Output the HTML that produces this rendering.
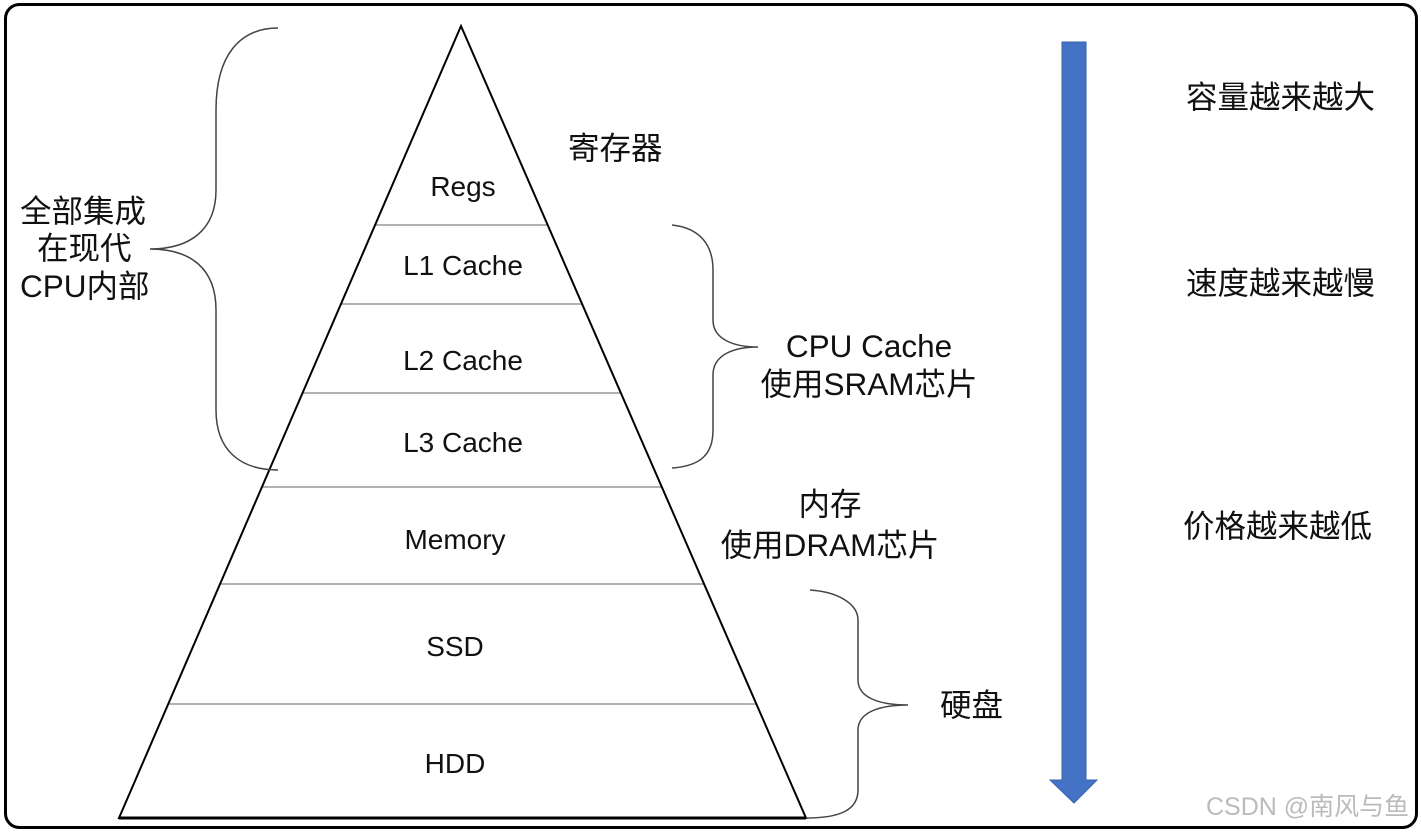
<!DOCTYPE html>
<html><head><meta charset="utf-8"><style>
html,body{margin:0;padding:0;background:#fff;}
svg{display:block;}
text{font-family:"Liberation Sans","Noto Sans CJK SC",sans-serif;fill:#111;}
</style></head><body>
<svg width="1421" height="833" viewBox="0 0 1421 833" xmlns="http://www.w3.org/2000/svg">
<rect x="5.5" y="4.5" width="1411" height="823" rx="14" fill="#fff" stroke="#000" stroke-width="3"/>
<g stroke="#999" stroke-width="1.5">
<line x1="375" y1="225" x2="548" y2="225"/>
<line x1="341" y1="304" x2="582" y2="304"/>
<line x1="302" y1="393" x2="621" y2="393"/>
<line x1="262" y1="487" x2="662" y2="487"/>
<line x1="220" y1="584" x2="705" y2="584"/>
<line x1="168" y1="704" x2="757" y2="704"/>
</g>
<polygon points="461,26 119,818 806,818" fill="none" stroke="#000" stroke-width="2"/>
<line x1="119" y1="818" x2="806" y2="818" stroke="#000" stroke-width="3"/>
<g font-size="28" text-anchor="middle">
<text x="463" y="196">Regs</text>
<text x="463" y="275">L1 Cache</text>
<text x="463" y="370">L2 Cache</text>
<text x="463" y="452">L3 Cache</text>
<text x="455" y="549">Memory</text>
<text x="455" y="656">SSD</text>
<text x="455" y="773">HDD</text>
</g>
<g fill="none" stroke="#444" stroke-width="1.5">
<path d="M278,28 C240,28 216,55 216,110 L216,190 C216,230 190,249 150,249 C190,249 216,268 216,310 L216,410 C216,450 240,470 278,470"/>
<path d="M672,225 C700,228 713,245 713,270 L713,320 C713,340 735,347 758,347 C735,347 713,354 713,375 L713,430 C713,455 700,466 672,468"/>
<path d="M810,590 C840,592 858,605 858,620 L858,680 C858,698 880,705 908,705 C880,705 858,712 858,730 L858,790 C858,810 840,818 806,818"/>
</g>
<g font-size="31.5">
<text x="20" y="222">全部集成</text>
<text x="37" y="259">在现代</text>
<text x="20" y="297">CPU内部</text>
<text x="568" y="159">寄存器</text>
<text x="869" y="357" text-anchor="middle">CPU Cache</text>
<text x="869" y="395" text-anchor="middle">使用SRAM芯片</text>
<text x="830" y="515" text-anchor="middle">内存</text>
<text x="830" y="556" text-anchor="middle">使用DRAM芯片</text>
<text x="940" y="716">硬盘</text>
<text x="1186" y="108">容量越来越大</text>
<text x="1186" y="294">速度越来越慢</text>
<text x="1183" y="537">价格越来越低</text>
</g>
<polygon points="1062,42 1086,42 1086,780 1097,780 1074,803 1050,780 1062,780" fill="#4472c4" stroke="#3a63ad" stroke-width="1"/>
<text x="1206" y="815" font-size="25" style="fill:#bbb">CSDN @南风与鱼</text>
</svg>
</body></html>
